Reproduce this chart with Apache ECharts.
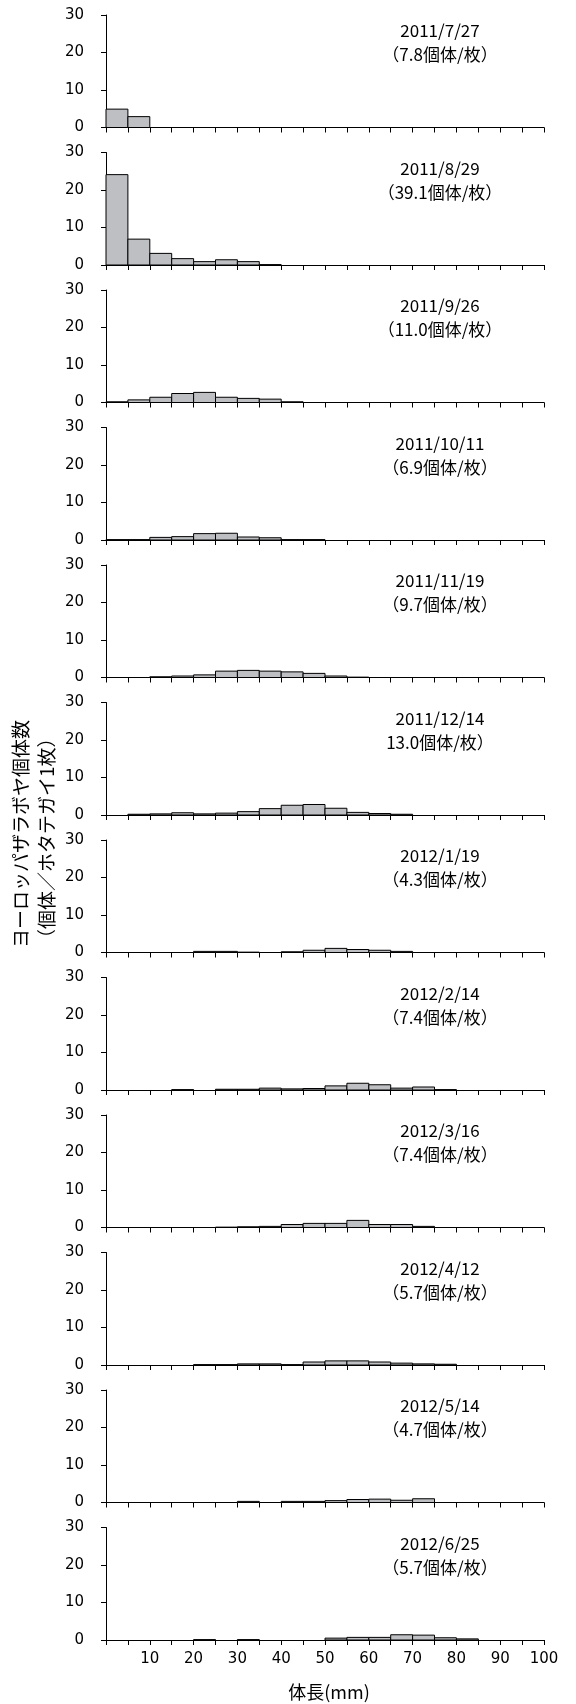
<!DOCTYPE html>
<html>
<head>
<meta charset="utf-8">
<script src="https://cdn.jsdelivr.net/npm/echarts@6/dist/echarts.min.js"></script>
<style>
html,body{margin:0;padding:0;background:#fff;}
#chart{width:576px;height:1704px;}
</style>
</head>
<body>
<div id="chart"></div>
<script>
// ---- data ----
var binStarts = [0,5,10,15,20,25,30,35,40,45,50,55,60,65,70,75,80,85,90,95];
var binWidth = 5;
var dateLabels = ['2011/7/27','2011/8/29','2011/9/26','2011/10/11','2011/11/19','2011/12/14',
                  '2012/1/19','2012/2/14','2012/3/16','2012/4/12','2012/5/14','2012/6/25'];
var densityLabels = ['（7.8個体/枚）','（39.1個体/枚）','（11.0個体/枚）','（6.9個体/枚）','（9.7個体/枚）','13.0個体/枚）',
                     '（4.3個体/枚）','（7.4個体/枚）','（7.4個体/枚）','（5.7個体/枚）','（4.7個体/枚）','（5.7個体/枚）'];
var v20110727 = [4.9,2.9,0,0,0,0,0,0,0,0,0,0,0,0,0,0,0,0,0,0];
var v20110829 = [24.1,6.9,3.1,1.7,0.9,1.4,0.9,0.1,0,0,0,0,0,0,0,0,0,0,0,0];
var v20110926 = [0.2,0.7,1.4,2.4,2.7,1.4,1.1,0.9,0.2,0,0,0,0,0,0,0,0,0,0,0];
var v20111011 = [0.1,0.1,0.7,0.9,1.7,1.8,0.8,0.6,0.1,0.1,0,0,0,0,0,0,0,0,0,0];
var v20111119 = [0,0,0.2,0.4,0.7,1.7,1.9,1.7,1.5,1.1,0.4,0.1,0,0,0,0,0,0,0,0];
var v20111214 = [0,0.2,0.3,0.6,0.3,0.5,0.9,1.7,2.6,2.8,1.8,0.7,0.4,0.2,0,0,0,0,0,0];
var v20120119 = [0,0,0,0,0.3,0.3,0.1,0,0.2,0.6,1.1,0.8,0.6,0.3,0,0,0,0,0,0];
var v20120214 = [0,0,0,0.1,0,0.2,0.2,0.5,0.3,0.4,1.1,1.8,1.4,0.5,0.8,0.1,0,0,0,0];
var v20120316 = [0,0,0,0,0,0.1,0.2,0.3,0.8,1.1,1.1,1.9,0.8,0.8,0.3,0,0,0,0,0];
var v20120412 = [0,0,0,0,0.1,0.1,0.3,0.3,0.1,0.8,1.1,1.1,0.8,0.5,0.3,0.2,0,0,0,0];
var v20120514 = [0,0,0,0,0,0,0.3,0,0.3,0.3,0.5,0.8,0.9,0.6,1.0,0,0,0,0,0];
var v20120625 = [0,0,0,0,0.1,0,0.1,0,0,0,0.5,0.7,0.7,1.4,1.3,0.6,0.3,0,0,0];
var yTicks = [0,10,20,30];
var xTickLabels = [10,20,30,40,50,60,70,80,90,100];
var yAxisTitle1 = 'ヨーロッパザラボヤ個体数';
var yAxisTitle2 = '（個体／ホタテガイ1枚）';
var xAxisTitle = '体長(mm)';

var allValues = [v20110727,v20110829,v20110926,v20111011,v20111119,v20111214,
                 v20120119,v20120214,v20120316,v20120412,v20120514,v20120625];

// ---- layout ----
var panelTop0 = 15, panelStep = 137.5, panelH = 112.5, gridLeft = 106, gridRight = 32;
var JP = '"Noto Sans CJK JP", "Noto Sans", sans-serif';
var NUM = '"DejaVu Sans", Verdana, sans-serif';

var grids = [], xAxes = [], yAxes = [], series = [], graphics = [];
allValues.forEach(function (vals, i) {
  var top = panelTop0 + panelStep * i;
  var last = i === allValues.length - 1;
  grids.push({left: gridLeft, right: gridRight, top: top, height: panelH});
  xAxes.push({
    type: 'value', gridIndex: i, min: 0, max: 100, interval: 5,
    axisLine: {show: true, onZero: false, lineStyle: {color: '#000', width: 1}},
    axisTick: {show: true, inside: false, length: 5, lineStyle: {color: '#000', width: 1}},
    axisLabel: {
      show: last, margin: 12, color: '#000', fontFamily: NUM, fontSize: 15,
      formatter: function (v) { return xTickLabels.indexOf(v) >= 0 ? String(v) : ''; }
    },
    splitLine: {show: false}
  });
  yAxes.push({
    type: 'value', gridIndex: i, min: 0, max: 30, interval: 10,
    axisLine: {show: true, lineStyle: {color: '#000', width: 1}},
    axisTick: {show: true, inside: false, length: 5, lineStyle: {color: '#000', width: 1}},
    axisLabel: {
      margin: 22, color: '#000', fontFamily: NUM, fontSize: 15,
      formatter: function (v) { return yTicks.indexOf(v) >= 0 ? String(v) : ''; }
    },
    splitLine: {show: false}
  });
  var data = [];
  vals.forEach(function (v, k) {
    if (v > 0) data.push([binStarts[k], binStarts[k] + binWidth, v]);
  });
  series.push({
    type: 'custom', xAxisIndex: i, yAxisIndex: i, data: data,
    encode: {x: [0, 1], y: 2},
    silent: true, animation: false,
    renderItem: function (params, api) {
      var p0 = api.coord([api.value(0), api.value(2)]);
      var p1 = api.coord([api.value(1), 0]);
      return {
        type: 'rect',
        shape: {x: p0[0], y: p0[1], width: p1[0] - p0[0], height: p1[1] - p0[1]},
        style: {fill: '#bebfc2', stroke: '#000', lineWidth: 1}
      };
    }
  });
  graphics.push({
    type: 'text', x: 440, y: top + 4, silent: true,
    style: {
      text: dateLabels[i] + '\n' + densityLabels[i],
      align: 'center', verticalAlign: 'top', lineHeight: 24,
      fontFamily: JP, fontSize: 17, fill: '#000'
    }
  });
});

graphics.push({
  type: 'text', x: 21, y: 948, rotation: Math.PI / 2, silent: true,
  style: {text: yAxisTitle1, align: 'left', verticalAlign: 'middle', fontFamily: JP, fontSize: 19, fill: '#000'}
});
graphics.push({
  type: 'text', x: 47, y: 948, rotation: Math.PI / 2, silent: true,
  style: {text: yAxisTitle2, align: 'left', verticalAlign: 'middle', fontFamily: JP, fontSize: 19, fill: '#000'}
});
graphics.push({
  type: 'text', x: 329, y: 1692, silent: true,
  style: {text: xAxisTitle, align: 'center', verticalAlign: 'middle', fontFamily: JP, fontSize: 18, fill: '#000'}
});

var chart = echarts.init(document.getElementById('chart'), null, {renderer: 'canvas'});
chart.setOption({
  animation: false,
  backgroundColor: '#fff',
  grid: grids,
  xAxis: xAxes,
  yAxis: yAxes,
  series: series,
  graphic: graphics
});
</script>
</body>
</html>
